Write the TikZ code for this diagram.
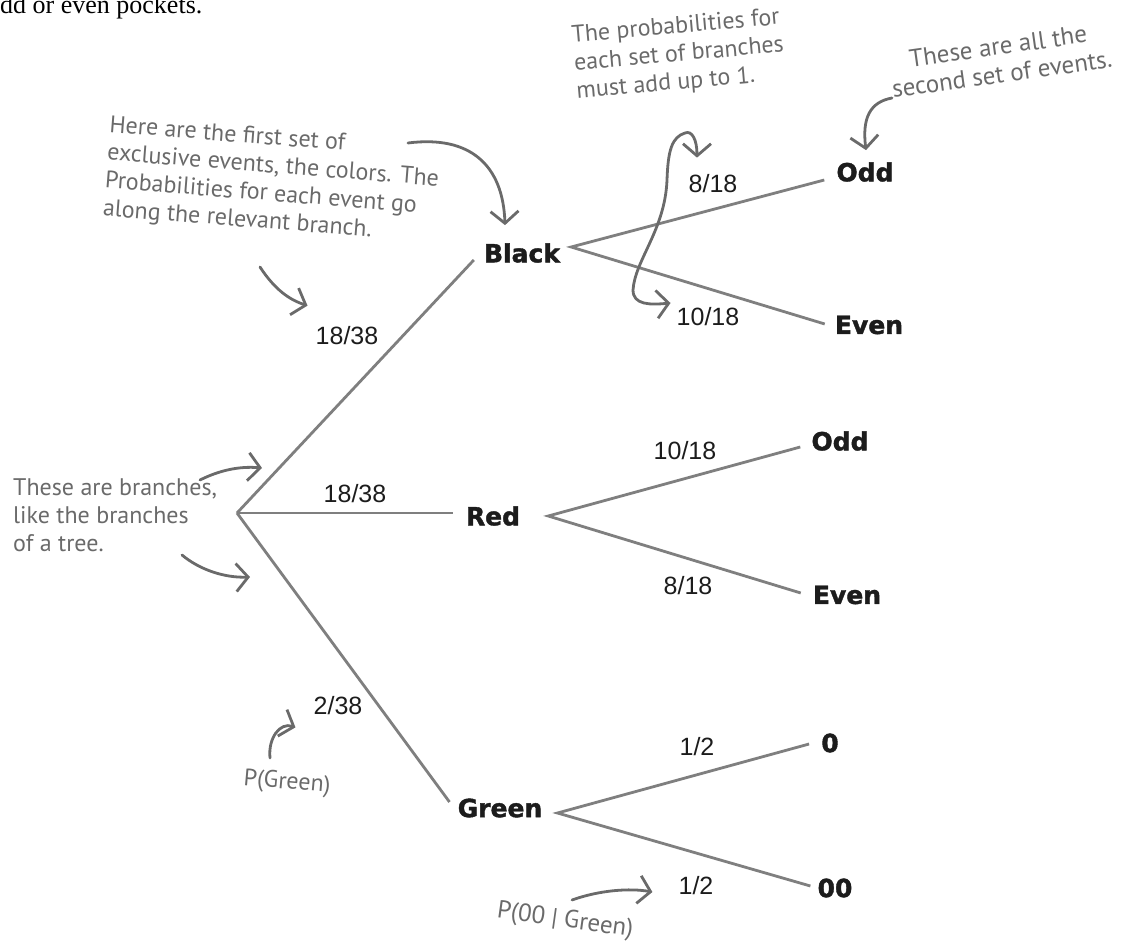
\documentclass[tikz,border=0pt]{standalone}
\usepackage{fontspec}
\usepackage{tikz}
\usetikzlibrary{arrows.meta, calc}
\newfontfamily\evtfont{DejaVu Sans}[BoldFeatures={FakeBold=1.6}]
\newfontfamily\numfont{Liberation Sans}
\newfontfamily\notefont{PT Sans}
\newfontfamily\pagefont{Liberation Serif}
\definecolor{branchline}{HTML}{7F7F7F}
\definecolor{noteink}{HTML}{6A6A6A}
\definecolor{evtink}{HTML}{1C1C1C}
\tikzset{
  evt/.style    = {inner sep=0pt, text=evtink, font=\evtfont\bfseries\fontsize{25}{30}\selectfont},
  prob/.style   = {inner sep=0pt, text=evtink, font=\numfont\fontsize{25}{30}\selectfont},
  note/.style   = {inner sep=0pt, text=noteink, font=\notefont\fontsize{24}{28}\selectfont},
  branch/.style = {line width=2.8pt, draw=branchline},
  hand/.style   = {-{Straight Barb[length=12pt, width=28pt]}, line width=2.8pt, draw=noteink, line cap=round},
}

\begin{document}
\begin{tikzpicture}[x=1pt, y=-1pt]
  \useasboundingbox (0,0) rectangle (1130,945);
  \node[anchor=base west, inner sep=0pt, font=\pagefont\fontsize{26}{30}\selectfont] (page) at (0,13) {dd or even pockets.};

  % the tree
  \coordinate (root) at (237,513);
  \node[evt] (black) at (522,253) {Black};
  \node[evt] (red) at (493,516) {Red};
  \node[evt] (green) at (500,808) {Green};
  \node[evt] (bodd) at (865,172) {Odd};
  \node[evt] (beven) at (869,325) {Even};
  \node[evt] (rodd) at (840,441) {Odd};
  \node[evt] (reven) at (847,595) {Even};
  \node[evt] (gzero) at (830,743) {0};
  \node[evt] (gdzero) at (835,888) {00};

  \node[prob] (pblack) at (347,336) {18/38};
  \node[prob] (pred) at (355,494) {18/38};
  \node[prob] (pgreen) at (338,706) {2/38};
  \node[prob] (pbodd) at (713,184) {8/18};
  \node[prob] (pbeven) at (708,317) {10/18};
  \node[prob] (prodd) at (685,451) {10/18};
  \node[prob] (preven) at (688,586) {8/18};
  \node[prob] (pgzero) at (697,747) {1/2};
  \node[prob] (pgdzero) at (696,886) {1/2};

  \draw[branch] (root) -- ($(black.west)+(-10,7)$);
  \draw[branch] (root) -- ($(red.west)+(-13,-3)$);
  \draw[branch] (root) -- ($(green.west)+(-8,-6)$);
  \draw[branch] ($(bodd.west)+(-12,8)$) -- ($(black.east)+(11,-6)$) -- ($(beven.west)+(-10,-1)$);
  \draw[branch] ($(rodd.west)+(-11,6)$) -- ($(red.east)+(28,0)$) -- ($(reven.west)+(-12,-2)$);
  \draw[branch] ($(gzero.west)+(-12,1)$) -- ($(green.east)+(15,5)$) -- ($(gdzero.west)+(-7,-2)$);

  % the handwritten notes
  \node[note, rotate=-4.5, align=left] (nfirst) at (272,181) {Here are the first set of\\exclusive events, the colors. The\\Probabilities for each event go\\along the relevant branch.};
  \node[note, rotate=5, align=left] (nsum) at (679,55) {The probabilities for\\each set of branches\\must add up to 1.};
  \node[note, rotate=8, align=center, font=\notefont\fontsize{25}{28}\selectfont] (nsecond) at (1000,60) {These are all the\\second set of events.};
  \node[note, anchor=west, align=left] (nbranch) at (13,515) {These are branches,\\like the branches\\of a tree.};
  \node[note, rotate=-5] (npgreen) at (287,783) {P(Green)};
  \node[note, rotate=-8, font=\notefont\fontsize{25}{28}\selectfont] (npzz) at (565,921) {P(00 | Green)};

  \coordinate (firsttail) at (408,143);
  \coordinate (probtail) at (260,267);
  \coordinate (uptail) at (200,480);
  \coordinate (downtail) at (182,555);
  \coordinate (pgtail) at (270,758);
  \coordinate (pzztail) at (572,900);
  \coordinate (secondtail) at (892,98);

  \draw[hand] (firsttail) .. controls (470,135) and (503,165) .. ($(black.north)+(-17,-18)$);
  \draw[hand] (probtail) .. controls (275,290) and (290,300) .. ($(pblack.north west)+(-8,-21)$);
  \draw[hand] (uptail) .. controls (220,470) and (240,466) .. ($(root)+(25,-45)$);
  \draw[hand] (downtail) .. controls (200,570) and (225,578) .. ($(root)+(13,64)$);
  \draw[hand] (pgtail) .. controls (268,738) and (280,722) .. ($(pgreen.south west)+(-18,12)$);
  \draw[hand] (pzztail) .. controls (600,890) and (630,888) .. ($(pgdzero.west)+(-26,6)$);
  \draw[hand] (secondtail) .. controls (870,102) and (862,118) .. ($(bodd.north)+(1,-12)$);
  \draw[hand, {Straight Barb[length=12pt, width=28pt]}-{Straight Barb[length=12pt, width=28pt]}]
    ($(pbodd.north)+(-16,-17)$) .. controls (697,140) and (692,130) .. (685,133)
    .. controls (672,137) and (668,150) .. (667,180)
    .. controls (665,230) and (635,260) .. (633,290)
    .. controls (633,305) and (650,305) .. ($(pbeven.west)+(-6,-14)$);
\end{tikzpicture}
\end{document}
